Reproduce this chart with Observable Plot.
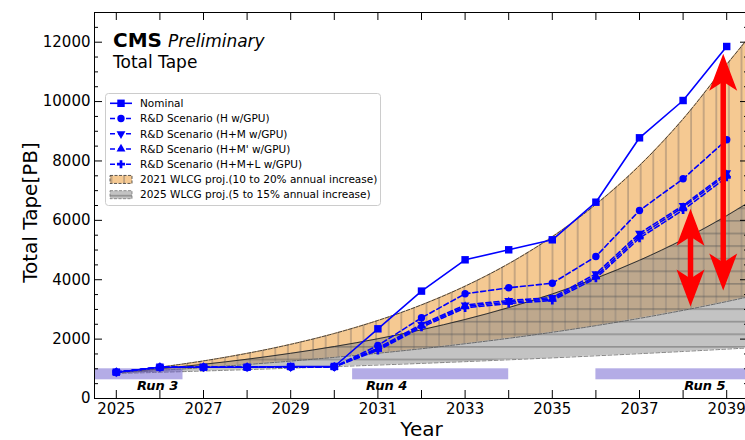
<!DOCTYPE html>
<html>
<head>
<meta charset="utf-8">
<script src="https://cdn.jsdelivr.net/npm/d3@7"></script>
<script src="https://cdn.jsdelivr.net/npm/@observablehq/plot@0.6"></script>
<style>
  html, body { margin: 0; padding: 0; background: #fff; overflow: hidden; }
  #chart { position: relative; width: 745px; height: 440px; }
</style>
</head>
<body>
<div id="chart"></div>
<script>
// ---------------- data ----------------
const years = [2025, 2026, 2027, 2028, 2029, 2030, 2031, 2032, 2033, 2034, 2035, 2036, 2037, 2038, 2039];
const nominal = [886, 1054, 1054, 1054, 1078, 1078, 2347, 3617, 4671, 5008, 5345, 6611, 8780, 10036, 11855];
const scenH   = [886, 1054, 1054, 1054, 1065, 1070, 1785, 2718, 3526, 3728, 3883, 4782, 6332, 7399, 8713];
const scenHM  = [886, 1054, 1054, 1054, 1060, 1065, 1700, 2500, 3150, 3300, 3400, 4200, 5560, 6500, 7600];
const scenHMp = [886, 1054, 1054, 1054, 1060, 1065, 1660, 2450, 3100, 3250, 3350, 4120, 5480, 6440, 7540];
const scenHML = [886, 1054, 1054, 1054, 1060, 1065, 1620, 2400, 3050, 3200, 3300, 4050, 5400, 6350, 7450];

const seriesNames = [
  "Nominal",
  "R&D Scenario (H w/GPU)",
  "R&D Scenario (H+M w/GPU)",
  "R&D Scenario (H+M' w/GPU)",
  "R&D Scenario (H+M+L w/GPU)"
];
const bandNames = [
  "2021 WLCG proj.(10 to 20% annual increase)",
  "2025 WLCG proj.(5 to 15% annual increase)"
];

const bandYears = [2025, 2026, 2027, 2028, 2029, 2030, 2031, 2032, 2033, 2034, 2035, 2036, 2037, 2038, 2039, 2039.5];
const wlcg2021High = [880, 1056, 1267, 1521, 1825, 2190, 2628, 3153, 3784, 4541, 5449, 6538, 7846, 9415, 11250, 12150];
const wlcg2021Low  = [860, 946, 1041, 1145, 1259, 1385, 1524, 1676, 1844, 2028, 2231, 2454, 2699, 2969, 3265, 3425];
const wlcg2025High = [870, 1000, 1151, 1323, 1522, 1750, 2012, 2314, 2661, 3061, 3520, 4048, 4655, 5353, 6156, 6602];
const wlcg2025Low  = [840, 882, 926, 972, 1021, 1072, 1126, 1182, 1241, 1303, 1368, 1437, 1509, 1584, 1663, 1704];

const runNames  = ["Run 3", "Run 4", "Run 5"];
const runStart  = [2024.5, 2030.42, 2036.0];
const runEnd    = [2026.53, 2034.0, 2039.6];
const runLabelX = [2025.95, 2031.2, 2038.5];
const runBarLow = 630, runBarHigh = 1000, runLabelY = 410;

const arrowX    = [2038.92, 2038.17];
const arrowLow  = [3640, 3100];
const arrowHigh = [11610, 6390];

const xTickYears  = years;
const xLabelYears = [2025, 2027, 2029, 2031, 2033, 2035, 2037, 2039];
const yMajor = [0, 2000, 4000, 6000, 8000, 10000, 12000];
const yMinor = [500, 1000, 1500, 2500, 3000, 3500, 4500, 5000, 5500, 6500, 7000, 7500,
                8500, 9000, 9500, 10500, 11000, 11500, 12500];

// ---------------- layout ----------------
const W = 745, H = 440, mL = 94, mR = -3, mT = 12, mB = 42;
const plotW = W - mL - mR, plotH = H - mT - mB;
const FONT = "DejaVu Sans";

const band21 = bandYears.map((x, i) => ({x, lo: wlcg2021Low[i], hi: wlcg2021High[i]}));
const band25 = bandYears.map((x, i) => ({x, lo: wlcg2025Low[i], hi: wlcg2025High[i]}));
const runs = runNames.map((name, i) => ({name, x1: runStart[i], x2: runEnd[i], lx: runLabelX[i]}));
const arrows = arrowX.map((x, i) => ({x, lo: arrowLow[i], hi: arrowHigh[i]}));

const series = [
  {values: nominal, dash: null,  symbol: "square",   r: 4.2, rotate: 0},
  {values: scenH,   dash: "5,3", symbol: "circle",   r: 3.7, rotate: 0},
  {values: scenHM,  dash: "5,3", symbol: "triangle", r: 3.3, rotate: 180},
  {values: scenHMp, dash: "5,3", symbol: "triangle", r: 3.3, rotate: 0},
  {values: scenHML, dash: "5,3", symbol: "cross",    r: 3.4, rotate: 0}
];

const headShape = {
  draw(ctx) {
    ctx.moveTo(0, 0);
    ctx.lineTo(-14, 37);
    ctx.lineTo(0, 28);
    ctx.lineTo(14, 37);
    ctx.closePath();
  }
};

const curve = "monotone-x";
const marks = [
  Plot.areaY(band21, {x: "x", y1: "lo", y2: "hi", fill: "url(#hatchV)", curve}),
  Plot.line(band21, {x: "x", y: "hi", stroke: "#333", strokeWidth: 0.9, strokeDasharray: "4,1.5", curve}),
  Plot.line(band21, {x: "x", y: "lo", stroke: "#333", strokeWidth: 0.9, strokeDasharray: "4,1.5", curve}),
  Plot.areaY(band25, {x: "x", y1: "lo", y2: "hi", fill: "url(#hatchH)", curve}),
  Plot.line(band25, {x: "x", y: "hi", stroke: "#222", strokeWidth: 0.9, curve}),
  Plot.line(band25, {x: "x", y: "lo", stroke: "#777", strokeWidth: 0.9, strokeDasharray: "4,2", curve}),
  Plot.rect(runs, {x1: "x1", x2: "x2", y1: runBarLow, y2: runBarHigh, fill: "#6a5acd", fillOpacity: 0.5}),
  Plot.text(runs, {x: "lx", y: runLabelY, text: "name", fontWeight: "bold", fontStyle: "italic",
                   fontSize: 13, lineAnchor: "middle", fill: "black"})
];
for (const s of series) {
  marks.push(Plot.line(years, {x: years, y: s.values, stroke: "blue", strokeWidth: 1.6, strokeDasharray: s.dash}));
  marks.push(Plot.dot(years, {x: years, y: s.values, symbol: s.symbol, r: s.r, rotate: s.rotate, fill: "blue", stroke: "none"}));
}
marks.push(
  Plot.ruleX(arrows, {x: "x", y1: "hi", y2: "lo", stroke: "red", strokeWidth: 5.5, insetTop: 26, insetBottom: 26}),
  Plot.dot(arrows, {x: "x", y: "hi", symbol: headShape, r: 5, fill: "red", stroke: "none"}),
  Plot.dot(arrows, {x: "x", y: "lo", symbol: headShape, r: 5, rotate: 180, fill: "red", stroke: "none"}),
  // ticks (inward, on all four sides)
  Plot.tickX(xTickYears, {x: d => d, insetTop: plotH - 8, stroke: "black"}),
  Plot.tickX(xTickYears, {x: d => d, insetBottom: plotH - 8, stroke: "black"}),
  Plot.tickY(yMajor, {y: d => d, insetRight: plotW - 8, stroke: "black"}),
  Plot.tickY(yMinor, {y: d => d, insetRight: plotW - 4, stroke: "black"}),
  Plot.tickY(yMajor, {y: d => d, insetLeft: plotW - 8, stroke: "black"}),
  Plot.tickY(yMinor, {y: d => d, insetLeft: plotW - 4, stroke: "black"}),
  Plot.axisX(xLabelYears, {tickSize: 0, tickPadding: 5, fontSize: 15, label: null, tickFormat: d => String(d)}),
  Plot.axisY(yMajor, {tickSize: 0, tickPadding: 4, fontSize: 15, label: null, tickFormat: d => String(d)}),
  Plot.text(["Year"], {text: d => d, frameAnchor: "bottom", dy: 31.5, fontSize: 20, lineAnchor: "middle", fill: "black"}),
  Plot.text(["Total Tape[PB]"], {text: d => d, frameAnchor: "left", textAnchor: "middle", dx: -63.5, dy: 7,
                                 rotate: -90, fontSize: 20, lineAnchor: "middle", fill: "black"}),
  Plot.frame({stroke: "black", strokeWidth: 1})
);

const plot = Plot.plot({
  width: W, height: H,
  marginLeft: mL, marginRight: mR, marginTop: mT, marginBottom: mB,
  x: {domain: [2024.5, 2039.5]},
  y: {domain: [0, 13000]},
  style: {fontFamily: FONT, fontSize: "15px", color: "black", background: "white"},
  marks
});

// ---------------- hatch patterns ----------------
const svg = d3.select(plot);
const defs = svg.insert("defs", ":first-child");
const pV = defs.append("pattern").attr("id", "hatchV").attr("patternUnits", "userSpaceOnUse")
  .attr("width", 12.6).attr("height", 12.6);
pV.append("rect").attr("width", 12.6).attr("height", 12.6).attr("fill", "#f5c992");
pV.append("line").attr("x1", 10.7).attr("x2", 10.7).attr("y1", 0).attr("y2", 12.6)
  .attr("stroke", "#9a8470").attr("stroke-width", 1);
const pH = defs.append("pattern").attr("id", "hatchH").attr("patternUnits", "userSpaceOnUse")
  .attr("width", 12.6).attr("height", 12.6);
pH.append("rect").attr("width", 12.6).attr("height", 12.6).attr("fill", "#888").attr("fill-opacity", 0.5);
pH.append("line").attr("x1", 0).attr("x2", 12.6).attr("y1", 6.7).attr("y2", 6.7)
  .attr("stroke", "#555").attr("stroke-opacity", 0.75).attr("stroke-width", 1);

// ---------------- title ----------------
const t1 = svg.append("text").attr("x", 113).attr("y", 47).attr("font-family", FONT)
  .attr("text-anchor", "start").attr("fill", "black");
t1.append("tspan").attr("font-weight", "bold").attr("font-size", 20).text("CMS");
t1.append("tspan").attr("font-style", "italic").attr("font-size", 17).attr("dx", 6).text("Preliminary");
svg.append("text").attr("x", 113).attr("y", 68).attr("font-family", FONT).attr("font-size", 17)
  .attr("text-anchor", "start").attr("fill", "black").text("Total Tape");

// ---------------- legend ----------------
const lg = svg.append("g").attr("font-family", FONT).attr("font-size", 10.5)
  .attr("text-anchor", "start").attr("fill", "black");
lg.append("rect").attr("x", 105.5).attr("y", 93.5).attr("width", 275).attr("height", 112).attr("rx", 3)
  .attr("fill", "white").attr("fill-opacity", 0.85).attr("stroke", "#cccccc");
const symMap = {square: d3.symbolSquare, circle: d3.symbolCircle, triangle: d3.symbolTriangle, cross: d3.symbolCross};
const rowY = i => 103.3 + i * 15.23;
series.forEach((s, i) => {
  const cy = rowY(i);
  lg.append("line").attr("x1", 110).attr("x2", 132).attr("y1", cy).attr("y2", cy)
    .attr("stroke", "blue").attr("stroke-width", 1.6).attr("stroke-dasharray", s.dash);
  lg.append("path").attr("d", d3.symbol(symMap[s.symbol], s.r * s.r * Math.PI)())
    .attr("transform", `translate(121,${cy}) rotate(${s.rotate})`).attr("fill", "blue");
  lg.append("text").attr("x", 140).attr("y", cy + 3.8).text(seriesNames[i]);
});
bandNames.forEach((name, j) => {
  const cy = rowY(5 + j);
  lg.append("rect").attr("x", 110).attr("y", cy - 4).attr("width", 22).attr("height", 8)
    .attr("fill", j === 0 ? "url(#hatchV)" : "url(#hatchH)")
    .attr("stroke", j === 0 ? "#333" : "#777").attr("stroke-width", 0.8).attr("stroke-dasharray", "3,1.5");
  lg.append("text").attr("x", 140).attr("y", cy + 3.8).text(name);
});

document.getElementById("chart").append(plot);
</script>
</body>
</html>
